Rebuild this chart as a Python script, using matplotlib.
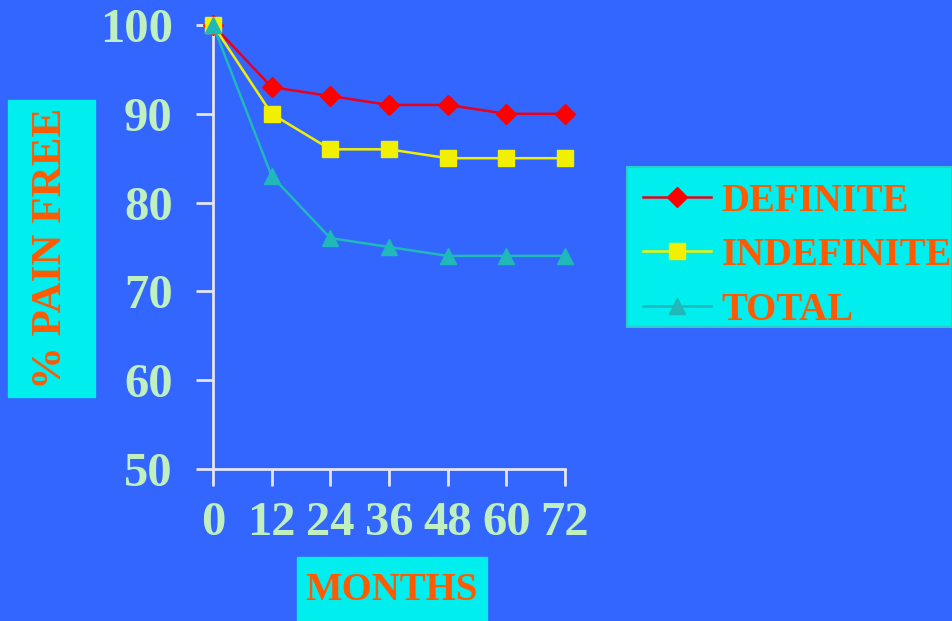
import matplotlib
matplotlib.use("Agg")
import matplotlib.pyplot as plt
from matplotlib.patches import Rectangle

months = [0, 12, 24, 36, 48, 60, 72]
definite = [100, 93, 92, 91, 91, 90, 90]
indefinite = [100, 90, 86, 86, 85, 85, 85]
total = [100, 83, 76, 75, 74, 74, 74]
yticks = [50, 60, 70, 80, 90, 100]

bg = "#3366ff"
tickcol = "#c0f0c0"
labcol = "#ff5a00"
boxcol = "#00eeee"
spinecol = "#e4e4f4"

plt.rcParams['font.family'] = ['Liberation Serif', 'DejaVu Serif']
plt.rcParams['font.weight'] = 'bold'

W, H = 952, 621
fig = plt.figure(figsize=(W / 100, H / 100), dpi=100, facecolor=bg)
ax = fig.add_axes([213 / W, 1 - 469 / H, (565 - 213) / W, (469 - 25) / H])
ax.set_facecolor(bg)

ax.plot(months, definite, color="#e8001c", lw=1.8, marker="D", ms=10,
        mfc="#ff0000", mec="#ff0000", label="DEFINITE", clip_on=False, zorder=3)
ax.plot(months, indefinite, color="#f0f000", lw=1.8, marker="s", ms=11,
        mfc="#f0f000", mec="#f0f000", label="INDEFINITE", clip_on=False, zorder=3)
ax.plot(months, total, color="#20b8b8", lw=1.8, marker="^", ms=11,
        mfc="#20b8b8", mec="#20b8b8", label="TOTAL", clip_on=False, zorder=4)

ax.set_xlim(0, 72)
ax.set_ylim(50, 100)
ax.set_xticks(months)
ax.set_yticks(yticks)
for s in ("top", "right"):
    ax.spines[s].set_visible(False)
for s in ("left", "bottom"):
    ax.spines[s].set_color(spinecol)
    ax.spines[s].set_linewidth(2)
ax.tick_params(colors=spinecol, width=2, length=12, direction="out",
               labelcolor=tickcol, labelsize=35)
ax.tick_params(axis="y", pad=17)
ax.tick_params(axis="x", pad=11)
for lab in ax.get_xticklabels() + ax.get_yticklabels():
    lab.set_fontweight("bold")

# y label box
fig.patches.append(Rectangle((8 / W, 1 - 397 / H), 87 / W, 297 / H,
                             transform=fig.transFigure, color=boxcol, zorder=0))
fig.text(51 / W, 1 - 248 / H, "% PAIN FREE", rotation=90, ha="center", va="center",
         color=labcol, fontsize=31, fontweight="bold")

# x label box
fig.patches.append(Rectangle((297 / W, 0), 190 / W, 64 / H,
                             transform=fig.transFigure, color=boxcol, zorder=0))
fig.text(392 / W, 1 - 591 / H, "MONTHS", ha="center", va="center",
         color=labcol, fontsize=28, fontweight="bold")

# legend box
fig.patches.append(Rectangle((627 / W, 1 - 327 / H), (W - 627) / W, 160 / H,
                             transform=fig.transFigure, facecolor=boxcol,
                             edgecolor="#30c8c8", lw=1.5, zorder=0))
leg = fig.legend(loc="upper left", bbox_to_anchor=(627 / W, 1 - 167 / H),
                 frameon=False, fontsize=28, handlelength=1.75, handletextpad=0.28,
                 labelspacing=0.45, borderpad=0.4, borderaxespad=0)
for t in leg.get_texts():
    t.set_color(labcol)
    t.set_fontweight("bold")

fig.savefig("out.png", dpi=100, facecolor=bg)
